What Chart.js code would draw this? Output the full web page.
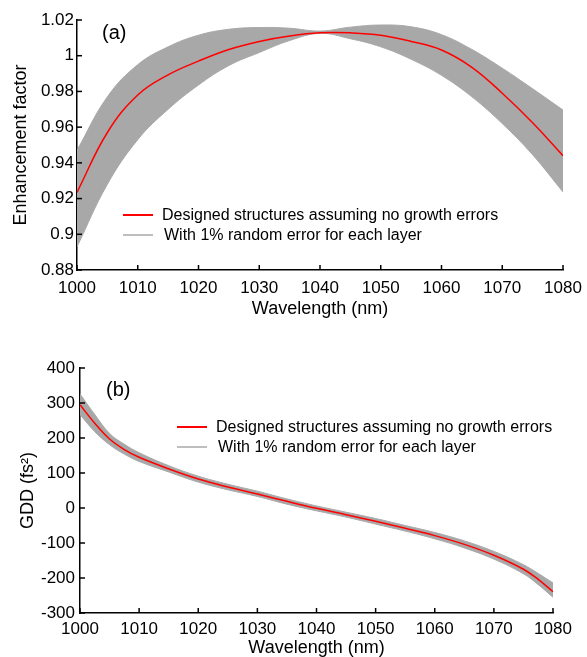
<!DOCTYPE html>
<html><head><meta charset="utf-8">
<script src="https://cdn.jsdelivr.net/npm/chart.js@4.4.0/dist/chart.umd.min.js"></script>
<style>html,body{margin:0;padding:0;background:#fff;overflow:hidden;width:587px;height:657px} canvas{position:absolute;left:0}</style>
</head><body>
<canvas id="ca" width="587" height="330" style="top:0px"></canvas>
<canvas id="cb" width="587" height="327" style="top:330px"></canvas>
<script>
// ---- data ----
const xTicks = [1000,1010,1020,1030,1040,1050,1060,1070,1080];

// (a) enhancement factor
const efWavelengths = [1000,1005,1010,1015,1020,1025,1030,1035,1040,1045,1050,1055,1060,1065,1070,1075,1080];
const efDesigned = [0.9235,0.957,0.978,0.9893,0.997,1.0035,1.008,1.011,1.0128,1.0128,1.0115,1.008,1.0032,0.9935,0.979,0.9625,0.944];
const efErrUpper = [0.947,0.977,0.995,1.005,1.0115,1.0148,1.0158,1.0154,1.0138,1.016,1.0172,1.0162,1.0118,1.0035,0.993,0.9815,0.9696];
const efErrLower = [0.893,0.928,0.953,0.970,0.9836,0.9945,1.0018,1.0085,1.0125,1.0095,1.005,0.998,0.989,0.977,0.962,0.9445,0.9237];
const efTicks = [0.88,0.90,0.92,0.94,0.96,0.98,1.00,1.02];

// (b) GDD
const gddWavelengths = [1000,1002.5,1005,1007.5,1010,1015,1020,1025,1030,1035,1040,1045,1050,1055,1060,1065,1070,1075,1077.5,1080];
const gddDesigned = [295,242,197,167,145,112,83,60,40,19,-1,-19,-38,-58,-79,-104,-135,-175,-204,-239];
const gddErrUpper = [326,267,213,182,158,121,91,68,48,26,6,-12,-30,-50,-70,-94,-124,-162,-187,-214];
const gddErrLower = [267,218,181,154,133,103,74,52,33,11,-8,-26,-46,-66,-88,-114,-146,-188,-219,-255];
const gddTicks = [-300,-200,-100,0,100,200,300,400];

const legendLabels = ['Designed structures assuming no growth errors','With 1% random error for each layer'];
const panelLabels = ['(a)','(b)'];

// ---- helpers ----
const FONT = "'Liberation Sans', Arial, sans-serif";
const RED = '#ff0000';
const GRAY = '#a8a8a8';
const pts = (xs, arr) => xs.map((x,i)=>({x:x,y:arr[i]}));
const fmt = v => String(Number(v.toFixed(2)));

const innerTicks = {
  id:'innerTicks',
  afterDraw(chart){
    const ctx=chart.ctx, a=chart.chartArea, sx=chart.scales.x, sy=chart.scales.y;
    ctx.save(); ctx.strokeStyle='#000'; ctx.lineWidth=1.5;
    sx.ticks.forEach(t=>{const p=sx.getPixelForValue(t.value);ctx.beginPath();ctx.moveTo(p,a.bottom);ctx.lineTo(p,a.bottom-5);ctx.stroke();});
    sy.ticks.forEach(t=>{const p=sy.getPixelForValue(t.value);ctx.beginPath();ctx.moveTo(a.left,p);ctx.lineTo(a.left+5,p);ctx.stroke();});
    ctx.restore();
  }
};
const panelLegend = {
  id:'panelLegend',
  afterDraw(chart, args, o){
    const ctx=chart.ctx;
    ctx.save();
    ctx.fillStyle='#000'; ctx.textBaseline='middle'; ctx.textAlign='left';
    ctx.font='20px '+FONT;
    ctx.fillText(o.panel, o.px, o.py);
    ctx.font='16px '+FONT;
    ctx.lineWidth=2; ctx.strokeStyle=RED;
    ctx.beginPath(); ctx.moveTo(o.lx,o.ly); ctx.lineTo(o.lx+30,o.ly); ctx.stroke();
    ctx.lineWidth=1.5; ctx.strokeStyle=GRAY;
    ctx.beginPath(); ctx.moveTo(o.lx,o.ly+20); ctx.lineTo(o.lx+30,o.ly+20); ctx.stroke();
    ctx.fillText(legendLabels[0], o.lx+39, o.ly+1);
    ctx.fillText(legendLabels[1], o.lx+41, o.ly+21);
    ctx.restore();
  }
};

function makeChart(id, cfg){
  return new Chart(document.getElementById(id), {
    type:'line',
    data:{datasets:[
      {data:pts(cfg.xs,cfg.designed), borderColor:RED, borderWidth:1.5, pointRadius:0, fill:false, tension:0.4},
      {data:pts(cfg.xs,cfg.upper), borderColor:GRAY, borderWidth:1, pointRadius:0, fill:false, tension:0.4},
      {data:pts(cfg.xs,cfg.lower), borderColor:GRAY, borderWidth:1, pointRadius:0, fill:'-1', backgroundColor:GRAY, tension:0.4}
    ]},
    options:{
      responsive:false, animation:false, devicePixelRatio:1,
      layout:{padding:cfg.pad},
      plugins:{legend:{display:false}, tooltip:{enabled:false},
        panelLegend:cfg.legend},
      scales:{
        x:{type:'linear', min:1000, max:1080,
          afterBuildTicks:s=>{s.ticks=xTicks.map(v=>({value:v}));},
          afterFit:s=>{s.height=cfg.xh; s.paddingLeft=0; s.paddingRight=0;},
          grid:{display:false, drawTicks:false},
          border:{display:true,color:'#000',width:1.5},
          ticks:{color:'#000', font:{family:FONT,size:17}, padding:cfg.xpad, maxRotation:0, autoSkip:false, callback:v=>String(v)},
          title:{display:true, text:'Wavelength (nm)', color:'#000', font:{family:FONT,size:18,lineHeight:1.2}, padding:{top:0,bottom:cfg.xtpad}}
        },
        y:{type:'linear', min:cfg.ymin, max:cfg.ymax,
          afterBuildTicks:s=>{s.ticks=cfg.ticks.map(v=>({value:v}));},
          afterFit:s=>{s.width=cfg.yw; s.paddingTop=0; s.paddingBottom=0;},
          grid:{display:false, drawTicks:false},
          border:{display:true,color:'#000',width:1.5},
          ticks:{color:'#000', font:{family:FONT,size:17}, padding:cfg.ypad, callback:v=>fmt(v), autoSkip:false},
          title:{display:true, text:cfg.ytitle, color:'#000', font:{family:FONT,size:18,lineHeight:1.2}, padding:{top:cfg.ytpad,bottom:0}}
        }
      }
    },
    plugins:[innerTicks, panelLegend]
  });
}

makeChart('ca', {xs:efWavelengths, designed:efDesigned, upper:efErrUpper, lower:efErrLower, ticks:efTicks,
  ymin:0.88, ymax:1.02, ytitle:'Enhancement factor',
  pad:{left:0,top:20,right:24,bottom:0}, xh:60, yw:77, xpad:8, ypad:3, xtpad:10, ytpad:10,
  legend:{panel:panelLabels[0], px:102, py:33, lx:123, ly:215}});

makeChart('cb', {xs:gddWavelengths, designed:gddDesigned, upper:gddErrUpper, lower:gddErrLower, ticks:gddTicks,
  ymin:-300, ymax:400, ytitle:'GDD (fs²)',
  pad:{left:0,top:38,right:34,bottom:0}, xh:44, yw:80, xpad:6, ypad:5, xtpad:-2, ytpad:17,
  legend:{panel:panelLabels[1], px:106, py:60, lx:177, ly:97}});
</script>
</body></html>
